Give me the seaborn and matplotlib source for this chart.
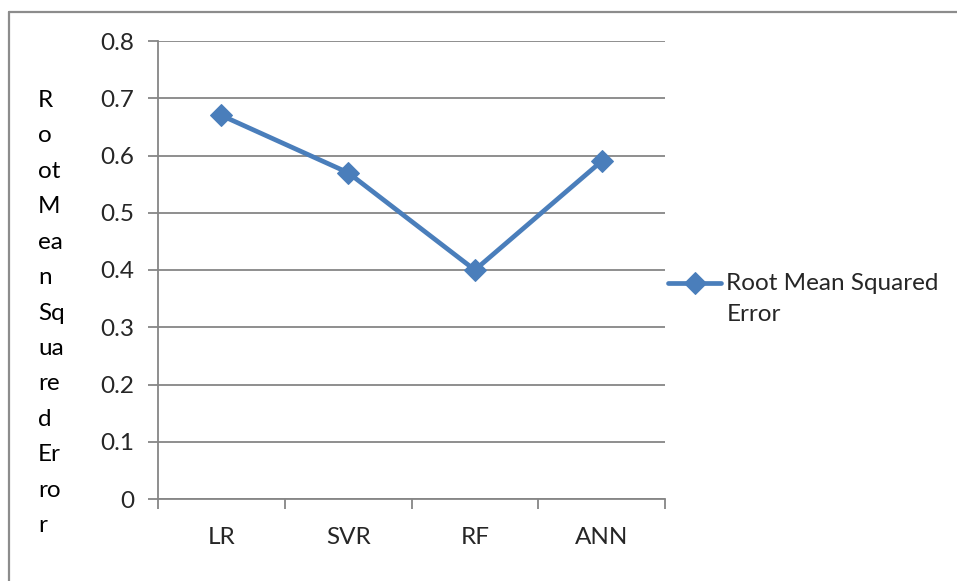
import matplotlib
matplotlib.use("Agg")
import matplotlib.pyplot as plt
from matplotlib.lines import Line2D
import seaborn as sns
import pandas as pd

# Model comparison: root mean squared error per model
models = ["LR", "SVR", "RF", "ANN"]
rmse = [0.67, 0.57, 0.40, 0.59]
y_ticks = [0, 0.1, 0.2, 0.3, 0.4, 0.5, 0.6, 0.7, 0.8]
y_tick_labels = ["0", "0.1", "0.2", "0.3", "0.4", "0.5", "0.6", "0.7", "0.8"]
series_name = "Root Mean Squared\nError"

df = pd.DataFrame({"model": models, "rmse": rmse})

sns.set_theme(style="white")
plt.rcParams["font.family"] = ["Lato", "DejaVu Sans"]

W, H = 957, 581
fig = plt.figure(figsize=(W / 100, H / 100), dpi=100)
ax = fig.add_axes([158 / W, 1 - 499 / H, (665 - 158) / W, (499 - 41) / H])

line_color = "#4A7EBB"
grid_color = "#868686"
text_size = 17.5

sns.lineplot(data=df, x="model", y="rmse", ax=ax, color=line_color,
             linewidth=3.4, marker="D", markersize=11,
             markeredgecolor=line_color, label=series_name, sort=False)

ax.set_xlim(-0.5, len(models) - 0.5)
ax.set_ylim(0, 0.8)

# y axis with horizontal gridlines
ax.set_yticks(y_ticks)
ax.set_yticklabels(y_tick_labels)
ax.yaxis.grid(True, color=grid_color, linewidth=1.3)
ax.tick_params(axis="y", length=7, width=1.3, color=grid_color,
               labelsize=text_size, pad=10, left=True)

# category labels sit between tick marks on the category boundaries
ax.set_xticks([i - 0.5 for i in range(len(models) + 1)])
ax.set_xticklabels([])
ax.set_xticks(range(len(models)), minor=True)
ax.set_xticklabels(models, minor=True)
ax.tick_params(axis="x", which="major", length=7, width=1.3,
               color=grid_color, direction="out", bottom=True)
ax.tick_params(axis="x", which="minor", length=0, labelsize=text_size, pad=20)
ax.xaxis.grid(False)
ax.set_xlabel("")
ax.set_ylabel("")

for side in ["top", "right"]:
    ax.spines[side].set_visible(False)
for side in ["left", "bottom"]:
    ax.spines[side].set_color(grid_color)
    ax.spines[side].set_linewidth(1.3)

# wrapped vertical axis title, broken into short lines
title_lines = ["R", "o", "ot", "M", "ea", "n", "Sq", "ua", "re", "d", "Er", "ro", "r"]
fig.text(38 / W, 1 - 313 / H, "\n".join(title_lines), ha="left", va="center",
         fontsize=text_size, linespacing=1.85, color="black")

ax.get_legend().remove()
leg = fig.legend(handles=ax.get_lines()[:1], labels=[series_name],
                 loc="center left", bbox_to_anchor=(668 / W, 1 - 299 / H),
                 frameon=False, fontsize=text_size, handlelength=2.2,
                 handletextpad=0.2, borderaxespad=0, borderpad=0,
                 labelspacing=0)
leg.get_texts()[0].set_linespacing(1.55)
# align the legend key with the first line of its label
key = leg.legend_handles[0]
key.set_ydata([y + 11.5 for y in key.get_ydata()])

# chart area border (left and top edges visible)
fig.add_artist(Line2D([9 / W, 9 / W], [0, 1 - 12 / H], transform=fig.transFigure,
                      color="#8C8C8C", linewidth=1.6))
fig.add_artist(Line2D([9 / W, 1], [1 - 12 / H, 1 - 12 / H], transform=fig.transFigure,
                      color="#8C8C8C", linewidth=1.6))

fig.savefig("out.png", dpi=100, facecolor="white")
